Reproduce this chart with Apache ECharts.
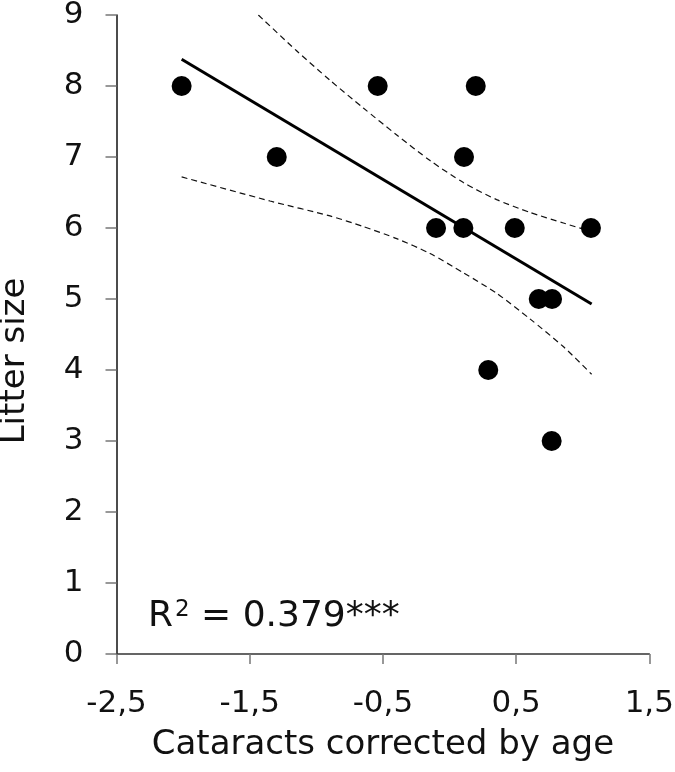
<!DOCTYPE html>
<html>
<head>
<meta charset="utf-8">
<script src="https://cdn.jsdelivr.net/npm/echarts@6/dist/echarts.min.js"></script>
<style>
html,body{margin:0;padding:0;background:#fff;}
#chart{width:675px;height:772px;}
</style>
</head>
<body>
<div id="chart"></div>
<script>
// ---- data ----
var pointX = [-2.011, -1.297, -0.539, 0.197, 0.109, -0.101, 0.104, 0.490, 1.062, 0.670, 0.770, 0.291, 0.767];
var pointY = [8, 7, 8, 8, 7, 6, 6, 6, 6, 5, 5, 4, 3];

var fitX = [-2.011, 1.067];
var fitY = [8.376, 4.93];

var upperX = [-1.435, -1.15, -0.897, -0.647, -0.396, -0.146, 0.104, 0.354, 0.604, 0.855, 1.067];
var upperY = [9.0, 8.50, 8.08, 7.69, 7.31, 6.95, 6.64, 6.40, 6.22, 6.07, 5.95];

var lowerX = [-2.011, -1.347, -0.897, -0.647, -0.396, -0.146, 0.104, 0.354, 0.604, 0.854, 1.067];
var lowerY = [6.72, 6.38, 6.17, 6.02, 5.85, 5.64, 5.37, 5.08, 4.72, 4.33, 3.94];

var xTickValues = [-2.5, -1.5, -0.5, 0.5, 1.5];
var xTickLabels = ['-2,5', '-1,5', '-0,5', '0,5', '1,5'];
var yTickLabels = ['0', '1', '2', '3', '4', '5', '6', '7', '8', '9'];

var xTitle = 'Cataracts corrected by age';
var yTitle = 'Litter size';
var r2Value = '0.379***';

function zip(a, b) { return a.map(function (v, i) { return [v, b[i]]; }); }

var FONT = 'DejaVu Sans';
var chart = echarts.init(document.getElementById('chart'), null, { renderer: 'canvas' });

chart.setOption({
  animation: false,
  backgroundColor: '#ffffff',
  grid: { left: 116.5, right: 25.7, top: 15, bottom: 118, containLabel: false, outerBoundsMode: 'none' },
  xAxis: {
    type: 'value', min: -2.5, max: 1.5, interval: 1,
    name: xTitle, nameLocation: 'middle', nameGap: 74,
    nameTextStyle: { fontFamily: FONT, fontSize: 34, color: '#111' },
    axisLine: { show: true, onZero: false, lineStyle: { color: '#333', width: 1.5 } },
    axisTick: { show: true, inside: false, length: 10, lineStyle: { color: '#777', width: 1.5 } },
    splitLine: { show: false },
    axisLabel: {
      margin: 34, fontFamily: FONT, fontSize: 31, color: '#111',
      formatter: function (v) {
        for (var i = 0; i < xTickValues.length; i++) if (Math.abs(xTickValues[i] - v) < 1e-9) return xTickLabels[i];
        return '';
      }
    }
  },
  yAxis: {
    type: 'value', min: 0, max: 9, interval: 1,
    axisLine: { show: true, onZero: false, lineStyle: { color: '#111', width: 1.5 } },
    axisTick: { show: true, inside: false, length: 11, lineStyle: { color: '#777', width: 1.5 } },
    splitLine: { show: false },
    axisLabel: {
      margin: 33, fontFamily: FONT, fontSize: 31, color: '#111',
      formatter: function (v) { return yTickLabels[Math.round(v)] !== undefined ? yTickLabels[Math.round(v)] : ''; }
    }
  },
  graphic: [
    {
      type: 'text', x: 15, y: 361, rotation: Math.PI / 2,
      style: { text: yTitle, fontFamily: FONT, fontSize: 34, fill: '#111', align: 'center', verticalAlign: 'middle' }
    },
    {
      type: 'text', x: 148, y: 617,
      style: {
        text: '{r|R}{s|2}{r| = ' + r2Value + '}',
        align: 'left', verticalAlign: 'middle',
        rich: {
          r: { fontFamily: FONT, fontSize: 36, fill: '#111' },
          s: { fontFamily: FONT, fontSize: 23, lineHeight: 19, fill: '#111', verticalAlign: 'top', padding: [0, 0, 0, 2] }
        }
      }
    }
  ],
  series: [
    {
      name: 'upper', type: 'line', data: zip(upperX, upperY), smooth: 0.25, showSymbol: false, symbol: 'none',
      lineStyle: { color: '#111', width: 1.2, type: [6, 4] }, silent: true, z: 2
    },
    {
      name: 'lower', type: 'line', data: zip(lowerX, lowerY), smooth: 0.25, showSymbol: false, symbol: 'none',
      lineStyle: { color: '#111', width: 1.2, type: [6, 4] }, silent: true, z: 2
    },
    {
      name: 'fit', type: 'line', data: zip(fitX, fitY), showSymbol: false, symbol: 'none',
      lineStyle: { color: '#000', width: 3 }, silent: true, z: 3
    },
    {
      name: 'points', type: 'scatter', data: zip(pointX, pointY), symbol: 'circle', symbolSize: 20,
      itemStyle: { color: '#000', opacity: 1 }, z: 4
    }
  ]
});
</script>
</body>
</html>
